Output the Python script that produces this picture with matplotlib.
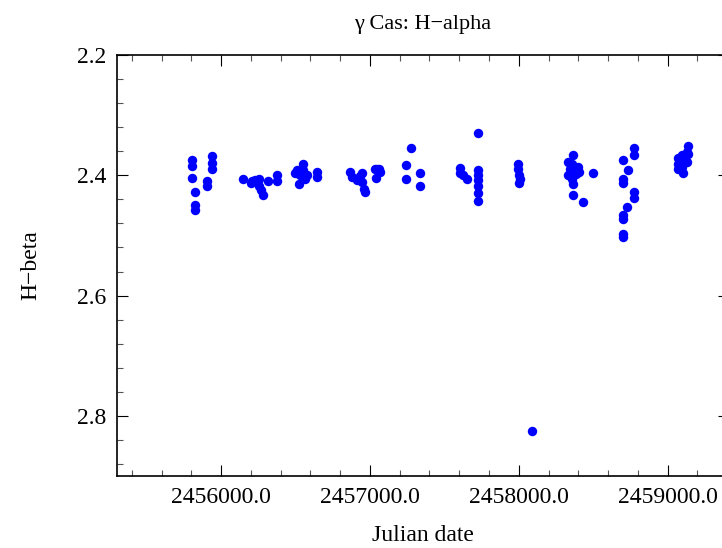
import matplotlib
matplotlib.use("Agg")
import matplotlib.pyplot as plt
from matplotlib.ticker import MultipleLocator, FormatStrFormatter

# Julian date / H-beta readings, grouped by observing season
jd = [
    2455806, 2455806, 2455806, 2455824, 2455824, 2455824,
    2455907, 2455907, 2455936, 2455936, 2455936,
    2456145, 2456198, 2456210, 2456227, 2456256, 2456256, 2456265, 2456279,
    2456317, 2456373, 2456373,
    2456496, 2456508, 2456525, 2456530, 2456548, 2456552, 2456563, 2456575,
    2456642, 2456642,
    2456868, 2456879, 2456913, 2456930, 2456946, 2456946, 2456958, 2456969,
    2457034, 2457043, 2457047, 2457060, 2457070,
    2457240, 2457242, 2457274, 2457336, 2457336,
    2457605, 2457605, 2457628, 2457650, 2457724, 2457724, 2457724, 2457724,
    2457724, 2457724, 2457724,
    2457998, 2457998, 2458005, 2458008, 2458000,
    2458089,
    2458362, 2458333, 2458356, 2458378, 2458400, 2458367, 2458407, 2458333,
    2458356, 2458367, 2458367, 2458434, 2458501, 2458345, 2458360, 2458385,
    2458703, 2458732, 2458703, 2458703, 2458774, 2458774, 2458774, 2458774,
    2458730, 2458703, 2458703, 2458703, 2458703,
    2459139, 2459128, 2459139, 2459094, 2459072, 2459128, 2459072, 2459094,
    2459072, 2459105, 2459085, 2459110,
]
hbeta = [
    2.374, 2.385, 2.404, 2.428, 2.450, 2.457,
    2.409, 2.418, 2.368, 2.379, 2.390,
    2.406, 2.413, 2.410, 2.408, 2.406, 2.418, 2.424, 2.433,
    2.410, 2.400, 2.409,
    2.397, 2.392, 2.414, 2.400, 2.381, 2.392, 2.407, 2.400,
    2.394, 2.403,
    2.394, 2.403, 2.408, 2.402, 2.397, 2.411, 2.422, 2.428,
    2.390, 2.404, 2.389, 2.390, 2.395,
    2.406, 2.383, 2.354, 2.397, 2.418,
    2.388, 2.397, 2.400, 2.406, 2.329, 2.391, 2.400, 2.408,
    2.418, 2.430, 2.442,
    2.381, 2.390, 2.400, 2.407, 2.413,
    2.825,
    2.367, 2.378, 2.381, 2.386, 2.386, 2.394, 2.394, 2.400,
    2.406, 2.414, 2.432, 2.444, 2.396, 2.390, 2.400, 2.398,
    2.375, 2.391, 2.406, 2.413, 2.354, 2.367, 2.428, 2.437,
    2.452, 2.466, 2.472, 2.497, 2.502,
    2.352, 2.361, 2.364, 2.367, 2.372, 2.378, 2.381, 2.386,
    2.389, 2.397, 2.375, 2.372,
]

plt.rcParams["font.family"] = ["Liberation Serif", "DejaVu Serif"]
plt.rcParams["font.size"] = 17

fig = plt.figure(figsize=(7.22, 5.48), dpi=100)
ax = fig.add_axes([117 / 722, 72 / 548, 612 / 722, 421 / 548])

ax.plot(jd, hbeta, "o", color="blue", markersize=6.8, markeredgewidth=0)

ax.set_xlim(2455300, 2459413)
ax.set_ylim(2.9, 2.2)

ax.xaxis.set_major_locator(MultipleLocator(1000))
ax.xaxis.set_minor_locator(MultipleLocator(200))
ax.xaxis.set_major_formatter(FormatStrFormatter("%.1f"))
ax.yaxis.set_major_locator(MultipleLocator(0.2))
ax.yaxis.set_minor_locator(MultipleLocator(0.04))
ax.yaxis.set_major_formatter(FormatStrFormatter("%.1f"))

ax.tick_params(which="both", direction="in", top=True, right=True, width=0.8)
ax.tick_params(which="major", length=8, pad=8)
ax.tick_params(which="minor", length=4, color="#555555")
for s in ax.spines.values():
    s.set_linewidth(1.2)

ax.set_title("\u03b3 Cas: H\u2212alpha", fontsize=16, pad=19)
ax.set_xlabel("Julian date", labelpad=12)
ax.set_ylabel("H\u2212beta", labelpad=25)

fig.savefig("out.png", dpi=100)
